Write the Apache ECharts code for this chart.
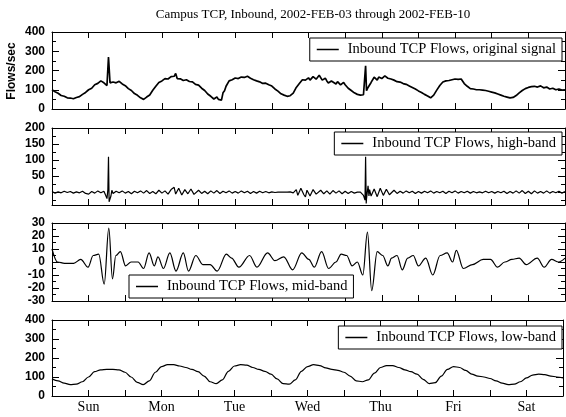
<!DOCTYPE html>
<html>
<head>
<meta charset="utf-8">
<script src="https://cdn.jsdelivr.net/npm/echarts@6/dist/echarts.min.js"></script>
<style>
  html, body { margin: 0; padding: 0; background: #fff; }
  #chart { width: 566px; height: 417px; }
</style>
</head>
<body>
<div id="chart"></div>
<script>
// Hours since Sunday 00:00 run along x (0..168); days are labelled at noon.
const dayNames = ['Sun', 'Mon', 'Tue', 'Wed', 'Thu', 'Fri', 'Sat'];
const titleText = 'Campus TCP, Inbound, 2002-FEB-03 through 2002-FEB-10';
const yTitle = 'Flows/sec';
const seriesNames = [
  'Inbound TCP Flows, original signal',
  'Inbound TCP Flows, high-band',
  'Inbound TCP Flows, mid-band',
  'Inbound TCP Flows, low-band'
];

// Original signal, flows/sec, one value per hour (h = index)
const originalHourly = [
  100, 90, 82, 70, 66, 58, 57, 53, 60, 64,
  76, 86, 100, 108, 126, 133, 146, 136, 122, 136,
  140, 136, 144, 130, 121, 106, 96, 80, 71, 58,
  50, 62, 73, 97, 118, 138, 146, 158, 156, 168,
  170, 158, 157, 148, 152, 143, 141, 128, 124, 108,
  96, 78, 66, 52, 62, 48, 84, 118, 146, 152,
  161, 158, 166, 164, 170, 160, 152, 146, 141, 133,
  134, 126, 119, 104, 93, 79, 72, 66, 69, 82,
  112, 132, 152, 150, 162, 160, 168, 158, 172, 152,
  146, 138, 142, 130, 140, 132, 126, 108, 96, 84,
  76, 72, 74, 95, 125, 148, 160, 166, 158, 172,
  160, 156, 150, 142, 140, 132, 128, 120, 112, 104,
  94, 86, 76, 68, 58, 72, 98, 122, 140, 146,
  148, 152, 156, 154, 156, 132, 118, 106, 104, 100,
  100, 98, 96, 92, 88, 84, 78, 72, 66, 62,
  58, 60, 70, 84, 96, 106, 112, 116, 118, 114,
  120, 110, 114, 104, 108, 100, 104, 98, 100
];
// Half-hour readings in the busy stretches and short bursts: [hour, flows/sec]
const originalBursts = [
  [18.5, 270], [36.5, 140], [37.5, 163], [38.5, 150], [39.5, 172], [40.5, 185],
  [41.5, 150], [42.5, 160], [43.5, 140], [44.5, 155], [45.5, 135], [46.5, 138],
  [50.5, 86], [51.5, 70], [52.5, 58], [53.5, 45], [54.5, 50], [55.5, 46], [56.5, 95],
  [60.5, 168], [62.5, 158], [64.5, 165],
  [84.5, 150], [85.5, 168], [86.5, 155], [87.5, 175], [88.5, 150], [89.5, 160],
  [90.5, 135], [91.5, 145], [93.5, 142], [94.5, 125], [95.5, 138],
  [102.7, 225], [103.5, 112], [104.5, 138], [105.5, 165], [106.5, 150],
  [107.5, 172], [108.5, 155], [109.5, 170], [110.5, 150],
  [130.5, 145], [131.5, 158], [132.5, 148], [133.5, 158],
  [157.5, 108], [158.5, 122], [159.5, 112], [161.5, 118], [162.5, 104]
];

// High-band component, one value per hour
const highHourly = [
  2, -3, 1, -2, 3, -1, 2, -3, 1, -2,
  3, -4, -6, 2, -3, 4, -2, 3, -20, -35,
  -4, 3, -2, 4, -3, 2, -5, 3, -2, 4,
  -3, 5, -4, 2, -5, 6, -3, 4, -6, 8,
  15, -8, 10, -6, 12, -10, 8, -5, 6, -4,
  3, -5, 4, -3, 5, -4, 3, -2, 4, -3,
  2, -3, 4, -2, 3, -4, 2, -3, 3, -2,
  2, -2, 1, -1, 0, 0, 0, 0, 1, -2,
  8, -12, 10, -15, 9, -10, 7, -8, 6, -5,
  4, -6, 5, -3, 4, -5, 3, -4, 2, -3,
  0, 0, -10, -20, 8, -10, 12, -9, 10, -8,
  11, -7, 6, -4, 3, -3, 4, -2, 3, -4,
  2, -3, 3, -2, 4, -3, 2, -2, 3, -4,
  3, -2, 4, -3, 2, -2, 3, -3, 2, -2,
  1, -2, 3, -2, 2, -3, 2, -2, 3, -4,
  2, -3, 4, -3, 5, -4, 3, -5, 4, -3,
  2, -3, 4, -3, 2, -2, 3, -3, 2
];
const highBursts = [
  [17.5, -8], [18.3, 8], [18.5, 110], [18.7, -30], [19.3, -12], [19.6, 6],
  [40.5, -6], [41.5, 12], [42.5, -9], [43.5, 8], [44.5, -5], [45.5, 10], [46.5, -7],
  [80.5, -10], [81.5, 12], [82.5, -8], [83.5, 6], [84.5, -12], [85.5, 8], [86.5, -6],
  [102.5, -25], [102.7, 110], [102.9, -35], [103.5, 20], [103.8, -12],
  [104.5, -12], [105.5, 10], [106.5, -14], [107.5, 12], [108.5, -10], [109.5, 9], [110.5, -8]
];

// Mid-band component: [hour, flows/sec]
const midBand = [
  [0, 10], [1.8, 0], [4.1, -1], [7.1, -1], [9.4, 2], [11.8, -4], [13.5, 5],
  [15.3, 6], [17.1, -17], [18.6, 26], [19.8, -13], [20.9, 5], [22.4, 8],
  [24.1, -3], [25.9, 0], [28.2, 0], [30.0, -5], [31.8, 7], [33.5, -3],
  [34.7, 4], [36.5, -5], [38.6, 7], [40.6, -7], [43.0, 7], [44.7, -7],
  [47.1, 5], [49.4, -2], [51.8, -2], [54.1, -7], [57.1, 6], [58.8, 3],
  [61.2, -4], [64.7, 5], [67.1, -4], [70.6, 7], [73.0, 1], [75.9, 4],
  [78.8, -6], [81.8, 7], [84.1, 2], [85.9, -4], [88.3, 8], [90.6, -5],
  [93.0, 0], [94.7, 6], [96.5, 5], [98.3, -3], [100.0, 0], [101.8, -10],
  [103.3, 23], [104.7, -22], [106.5, 8], [108.3, 5], [110.0, -3], [111.2, 3],
  [113.0, 5], [114.7, -6], [116.5, 3], [118.3, 5], [120.0, -3], [122.4, 3],
  [124.7, -10], [127.1, 5], [129.4, 7], [131.2, 0], [132.4, 9], [134.7, -5],
  [137.7, -2], [141.2, 2], [143.6, 2], [145.9, -4], [148.3, 0], [150.6, 2],
  [153.0, 3], [155.3, -2], [158.9, 3], [161.2, -4], [163.6, 2], [165.9, 0],
  [168, 3]
];

// Low-band component, one value every 2 hours (h = 2 * index)
const lowBand2h = [
  90, 80, 68, 60, 62, 75, 100, 128, 138, 140,
  140, 138, 125, 100, 72, 60, 80, 125, 155, 165,
  165, 158, 150, 140, 128, 105, 75, 65, 85, 130,
  158, 165, 163, 150, 140, 130, 115, 90, 65, 62,
  85, 130, 155, 165, 160, 148, 140, 135, 125, 105,
  80, 75, 85, 120, 150, 160, 160, 150, 138, 128,
  115, 88, 65, 70, 105, 140, 155, 150, 135, 115,
  105, 100, 92, 80, 68, 60, 62, 75, 95, 110,
  115, 112, 105, 100, 95
];

// ---- assemble [hour, value] pairs for the line series ----
function byHour(step, values) {
  return values.map((v, i) => [i * step, v]);
}
function withBursts(base, bursts) {
  return base.concat(bursts).sort((a, b) => a[0] - b[0]);
}
const panelData = [
  withBursts(byHour(1, originalHourly), originalBursts),
  withBursts(byHour(1, highHourly), highBursts),
  midBand,
  byHour(2, lowBand2h)
];

// ---- layout ----
const plotLeft = 52, plotRight = 1;
const panels = [
  { top: 32, height: 77, min: 0, max: 400, interval: 100, showMin: true },
  { top: 128, height: 77, min: -40, max: 200, split: 5, showMin: false },
  { top: 223, height: 78, min: -30, max: 30, interval: 10, showMin: true },
  { top: 320, height: 76, min: 0, max: 400, interval: 100, showMin: true }
];
const legendBoxes = [
  { right: 4, top: 38 },
  { right: 4, top: 132 },
  { left: 129, top: 275 },
  { right: 4, top: 326 }
];

const black = '#000';
const serif = '"Liberation Serif", "Times New Roman", serif';
const sans = '"Liberation Sans", Arial, sans-serif';

const grids = [], xAxes = [], yAxes = [], series = [], legends = [];
panels.forEach((p, i) => {
  grids.push({ left: plotLeft, right: plotRight, top: p.top, height: p.height });
  ['bottom', 'top'].forEach(pos => {
    const labelled = (i === panels.length - 1 && pos === 'bottom');
    xAxes.push({
      type: 'value', gridIndex: i, position: pos, min: 0, max: 168, interval: 12,
      axisLine: { show: true, onZero: false, lineStyle: { color: black, width: 1 } },
      axisTick: { show: true, inside: true, length: 6, lineStyle: { color: black } },
      splitLine: { show: false },
      axisLabel: {
        show: labelled, margin: 4, color: black, fontFamily: serif, fontSize: 14,
        formatter: v => (v % 24 === 12 ? dayNames[(v - 12) / 24] : '')
      }
    });
  });
  ['left', 'right'].forEach(pos => {
    const y = {
      type: 'value', gridIndex: i, position: pos, min: p.min, max: p.max,
      axisLine: { show: true, onZero: false, lineStyle: { color: black, width: 1 } },
      axisTick: { show: true, inside: true, length: 7, lineStyle: { color: black } },
      minorTick: { show: true, splitNumber: 2, length: 4, lineStyle: { color: black } },
      splitLine: { show: false },
      axisLabel: {
        show: pos === 'left', margin: 7, color: black, fontFamily: sans,
        fontWeight: 'bold', fontSize: 12,
        formatter: v => ((!p.showMin && v <= p.min) ? '' : String(v))
      }
    };
    if (p.interval) y.interval = p.interval; else y.splitNumber = p.split;
    yAxes.push(y);
  });
  series.push({
    name: seriesNames[i], type: 'line', xAxisIndex: 2 * i, yAxisIndex: 2 * i,
    data: panelData[i], symbol: 'none', showSymbol: false,
    smooth: i >= 2 ? 0.35 : false, smoothMonotone: i >= 2 ? 'x' : undefined,
    lineStyle: { color: black, width: i === 0 ? 1.7 : 1.2 },
    itemStyle: { color: black }, animation: false
  });
  legends.push(Object.assign({
    data: [{ name: seriesNames[i], icon: 'rect' }], orient: 'horizontal',
    backgroundColor: '#fff', borderColor: black, borderWidth: 1,
    padding: [4, 6, 4, 7], itemWidth: 22, itemHeight: 1.5,
    selectedMode: false,
    textStyle: { color: black, fontFamily: serif, fontSize: 14.5, padding: [0, 0, 0, 4] }
  }, legendBoxes[i]));
});

const chart = echarts.init(document.getElementById('chart'), null, { renderer: 'canvas' });
chart.setOption({
  backgroundColor: '#fff',
  animation: false,
  title: {
    text: titleText, left: 308, top: 3, textAlign: 'center',
    textStyle: { color: black, fontFamily: serif, fontWeight: 'normal', fontSize: 13 }
  },
  // vertical axis title beside the top panel
  graphic: [{
    type: 'text', x: 12, y: 71, rotation: Math.PI / 2,
    style: {
      text: yTitle, fill: black, font: 'bold 12px ' + sans,
      align: 'center', verticalAlign: 'middle'
    }
  }],
  grid: grids,
  xAxis: xAxes,
  yAxis: yAxes,
  legend: legends,
  series: series
});
</script>
</body>
</html>
